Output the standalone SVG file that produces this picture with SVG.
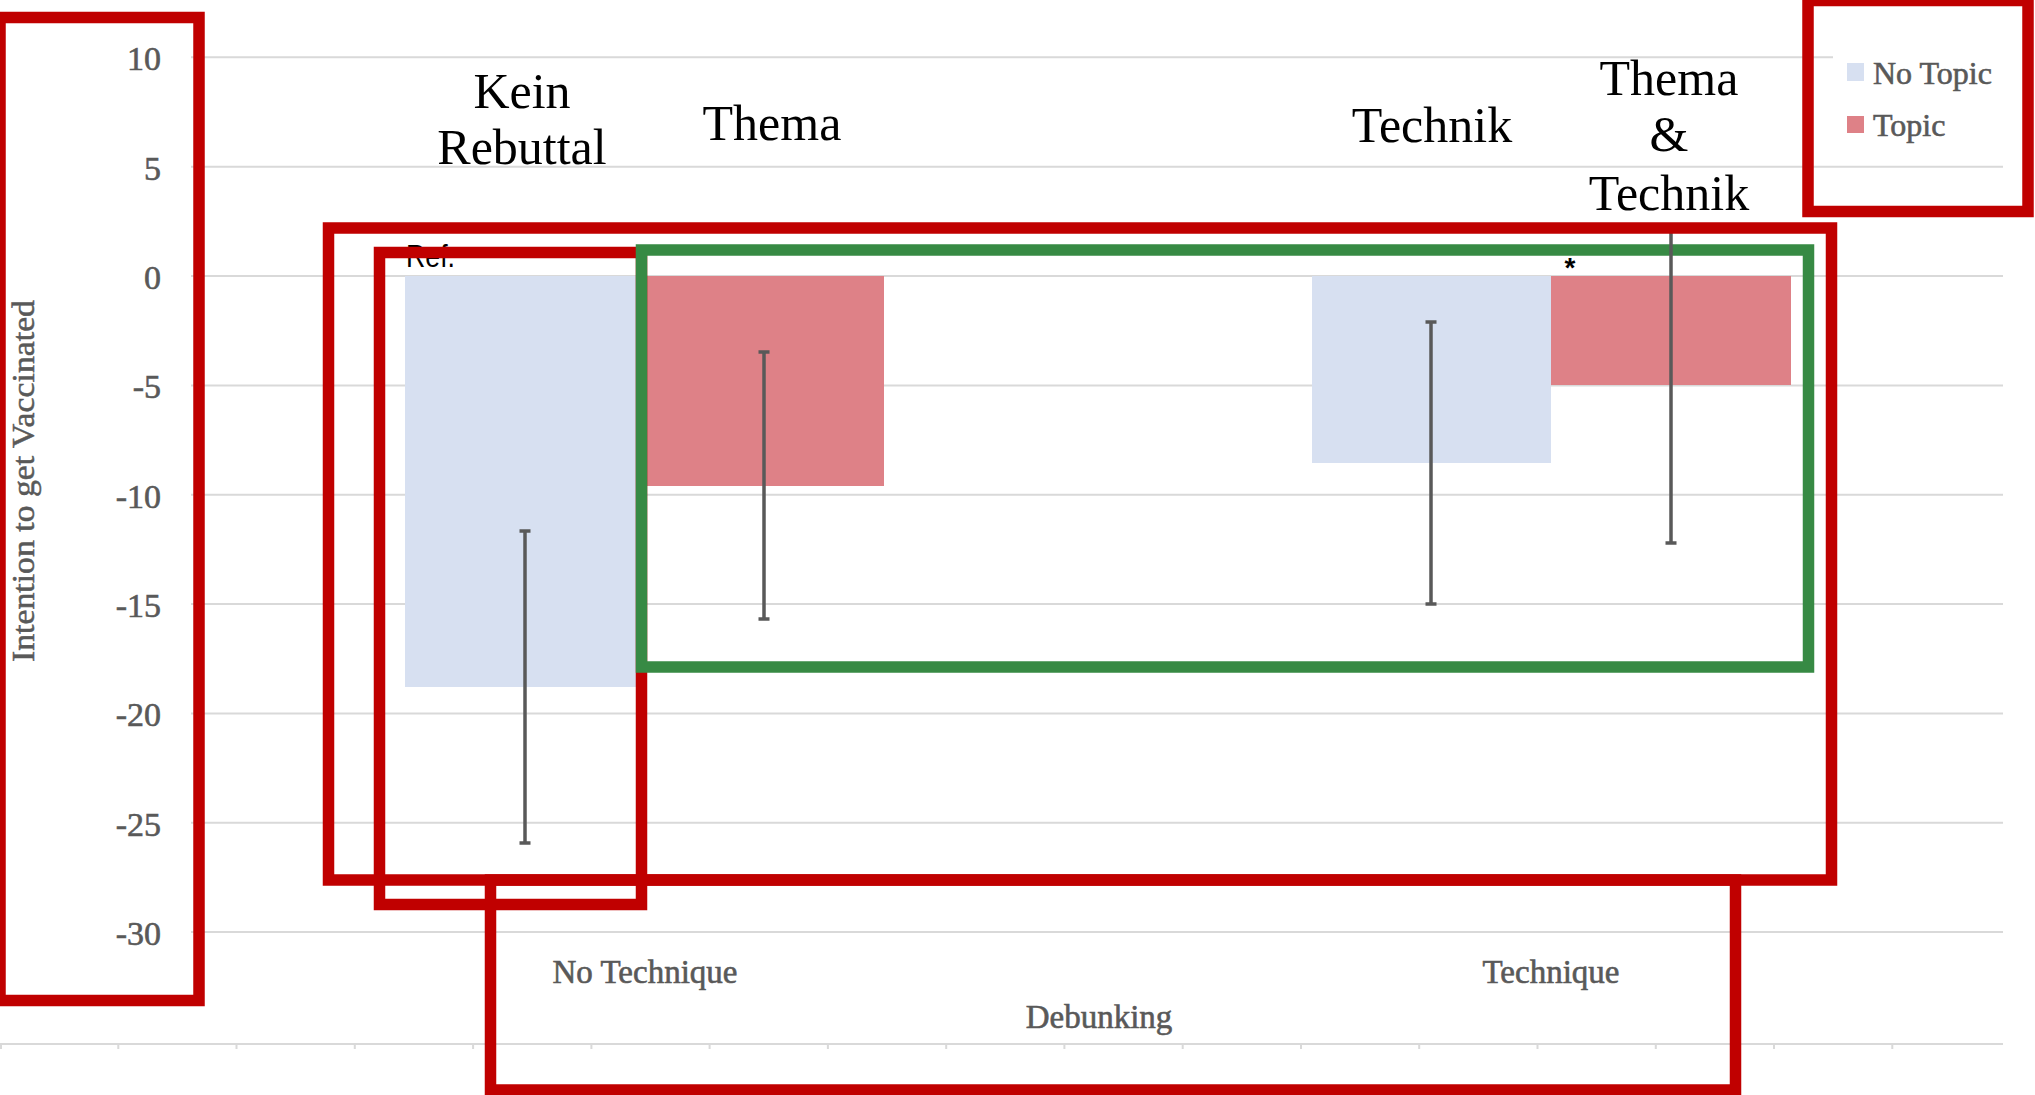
<svg xmlns="http://www.w3.org/2000/svg" width="2035" height="1095" viewBox="0 0 2035 1095">
<style>
.grid{stroke:#D9D9D9;stroke-width:2;fill:none}
.tick{font-family:"Liberation Serif",serif;font-size:34px;fill:#595959;stroke:#595959;stroke-width:0.6;text-anchor:end}
.axl{font-family:"Liberation Serif",serif;font-size:33px;fill:#595959;stroke:#595959;stroke-width:0.6;text-anchor:middle}
.leg{font-family:"Liberation Serif",serif;font-size:32px;fill:#595959;stroke:#595959;stroke-width:0.6}
.ann{font-family:"Liberation Serif",serif;font-size:50px;fill:#000;text-anchor:middle}
.nt{fill:#D7E0F1}
.tp{fill:#DE8187}
.err{stroke:#595959;stroke-width:3.5;fill:none}
.red{fill:none;stroke:#C00000;stroke-width:11.5}
.green{fill:none;stroke:#378A44;stroke-width:11.5}
</style>
<rect width="2035" height="1095" fill="#FFFFFF"/>
<g id="gridlines">
<line class="grid" x1="191" y1="57.3" x2="1833" y2="57.3"/>
<line class="grid" x1="191" y1="166.7" x2="2003" y2="166.7"/>
<line class="grid" x1="191" y1="276" x2="2003" y2="276"/>
<line class="grid" x1="191" y1="385.4" x2="2003" y2="385.4"/>
<line class="grid" x1="191" y1="494.7" x2="2003" y2="494.7"/>
<line class="grid" x1="191" y1="604" x2="2003" y2="604"/>
<line class="grid" x1="191" y1="713.4" x2="2003" y2="713.4"/>
<line class="grid" x1="191" y1="822.7" x2="2003" y2="822.7"/>
<line class="grid" x1="191" y1="932" x2="2003" y2="932"/>
<line class="grid" x1="0" y1="1044" x2="2003" y2="1044"/>
<path class="grid" d="M1,1044v5 M118.3,1044v5 M236.5,1044v5 M354.8,1044v5 M473.1,1044v5 M591.4,1044v5 M709.6,1044v5 M827.9,1044v5 M946.2,1044v5 M1064.4,1044v5 M1182.7,1044v5 M1301,1044v5 M1419.2,1044v5 M1537.5,1044v5 M1655.8,1044v5 M1774,1044v5 M1892.3,1044v5"/>
</g>
<g id="y-axis">
<text class="tick" x="161" y="70">10</text>
<text class="tick" x="161" y="180">5</text>
<text class="tick" x="161" y="289">0</text>
<text class="tick" x="161" y="398">-5</text>
<text class="tick" x="161" y="508">-10</text>
<text class="tick" x="161" y="617">-15</text>
<text class="tick" x="161" y="726">-20</text>
<text class="tick" x="161" y="836">-25</text>
<text class="tick" x="161" y="945">-30</text>
<text font-family="Liberation Serif, serif" font-size="31" fill="#595959" stroke="#595959" stroke-width="0.5" text-anchor="middle" transform="translate(34,481) rotate(-90)" textLength="362" lengthAdjust="spacingAndGlyphs">Intention to get Vaccinated</text>
</g>
<g id="bars">
<rect id="bar-notech-notopic" class="nt" x="405" y="276" width="240" height="411"/>
<rect id="bar-notech-topic" class="tp" x="645" y="276" width="239" height="210"/>
<rect id="bar-tech-notopic" class="nt" x="1312" y="276" width="239" height="187"/>
<rect id="bar-tech-topic" class="tp" x="1551" y="276" width="240" height="109"/>
</g>
<g id="x-axis">
<text class="axl" x="645" y="983">No Technique</text>
<text class="axl" x="1551" y="983">Technique</text>
<text class="axl" x="1099" y="1028">Debunking</text>
</g>
<g id="legend">
<rect class="nt" x="1847" y="63" width="17" height="18"/>
<text class="leg" x="1873" y="84">No Topic</text>
<rect class="tp" x="1847" y="116" width="17" height="17"/>
<text class="leg" x="1873" y="136">Topic</text>
</g>
<g id="labels">
<text font-family="Liberation Sans, Arial, sans-serif" font-size="32" fill="#000" x="406" y="267" textLength="49" lengthAdjust="spacingAndGlyphs">Ref.</text>
<text font-family="Liberation Sans, Arial, sans-serif" font-size="28" font-weight="bold" fill="#000" x="1570" y="277" text-anchor="middle">*</text>
<text class="ann" x="522" y="108">Kein</text>
<text class="ann" x="522" y="164">Rebuttal</text>
<text class="ann" x="772" y="140">Thema</text>
<text class="ann" x="1432" y="142">Technik</text>
<text class="ann" x="1669" y="95">Thema</text>
<text class="ann" x="1669" y="151">&amp;</text>
<text class="ann" x="1669" y="210">Technik</text>
</g>
<g id="frame-kein-rebuttal">
<rect class="red" x="379.5" y="252.5" width="262" height="652"/>
</g>
<g id="frame-rebuttals">
<rect class="green" x="641.5" y="250" width="1167" height="417"/>
</g>
<g id="error-bars">
<path class="err" d="M525,531V843 M519.5,531H530.5 M519.5,843H530.5"/>
<path class="err" d="M764,352V619 M758.5,352H769.5 M758.5,619H769.5"/>
<path class="err" d="M1431,322V604 M1425.5,322H1436.5 M1425.5,604H1436.5"/>
<path class="err" d="M1671,228V543 M1665.5,543H1676.5"/>
</g>
<g id="frame-bars">
<rect class="red" x="328.5" y="228" width="1503" height="652"/>
</g>
<g id="frame-x-axis">
<rect class="red" x="490.5" y="880" width="1245" height="210"/>
</g>
<g id="frame-legend">
<rect class="red" x="1808" y="0.5" width="220" height="211"/>
</g>
<g id="frame-y-axis">
<rect class="red" x="0" y="17.5" width="199" height="983"/>
</g>
</svg>
